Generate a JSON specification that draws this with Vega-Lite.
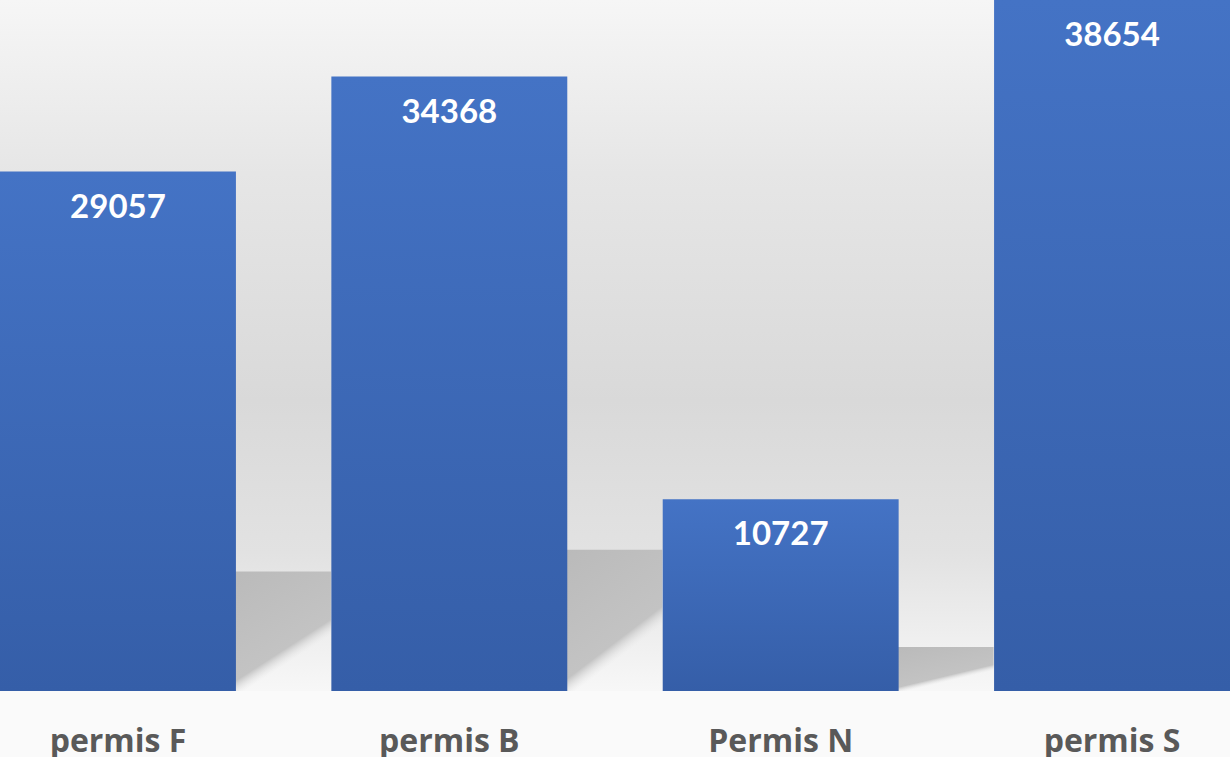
{
  "$schema": "https://vega.github.io/schema/vega-lite/v6.json",
  "width": 1230,
  "height": 691,
  "padding": 0,
  "autosize": {"type": "pad"},
  "background": "#fafafa",
  "config": {
    "view": {
      "stroke": null,
      "fill": {
        "gradient": "linear", "x1": 0, "y1": 0, "x2": 0, "y2": 1,
        "stops": [
          {"offset": 0, "color": "#f6f6f6"},
          {"offset": 0.25, "color": "#e6e6e6"},
          {"offset": 0.58, "color": "#d9d9d9"},
          {"offset": 0.8, "color": "#e2e2e2"},
          {"offset": 1, "color": "#f7f7f7"}
        ]
      }
    }
  },
  "data": {
    "values": [
      {"permis": "permis F", "nombre": 29057},
      {"permis": "permis B", "nombre": 34368},
      {"permis": "Permis N", "nombre": 10727},
      {"permis": "permis S", "nombre": 38654}
    ]
  },
  "encoding": {
    "x": {
      "field": "permis", "type": "nominal", "sort": null,
      "scale": {"paddingInner": 0.288, "paddingOuter": 0},
      "axis": {
        "title": null, "domain": false, "ticks": false, "labelAngle": 0,
        "labelFont": "Open Sans", "labelFontSize": 32, "labelFontWeight": "bold",
        "labelColor": "#595959", "labelPadding": 35
      }
    }
  },
  "layer": [
    {
      "mark": {
        "type": "bar", "xOffset": 95, "clip": true,
        "fill": {
          "gradient": "linear", "x1": 0, "y1": 0, "x2": 1.07, "y2": 0.84,
          "stops": [
            {"offset": 0, "color": "#b3b3b3"},
            {"offset": 0.76, "color": "#c3c3c3"},
            {"offset": 0.82, "color": "rgba(230,230,230,0)"},
            {"offset": 1, "color": "rgba(230,230,230,0)"}
          ]
        }
      },
      "encoding": {
        "y": {"field": "nombre", "type": "quantitative", "scale": {"domain": [0, 168000], "nice": false}, "axis": null}
      }
    },
    {
      "mark": {
        "type": "bar",
        "fill": {
          "gradient": "linear", "x1": 0, "y1": 0, "x2": 0, "y2": 1,
          "stops": [
            {"offset": 0, "color": "#4473c5"},
            {"offset": 1, "color": "#355ea8"}
          ]
        }
      },
      "encoding": {
        "y": {"field": "nombre", "type": "quantitative", "scale": {"domain": [0, 38654], "nice": false}, "axis": null}
      }
    },
    {
      "mark": {
        "type": "text", "align": "center", "baseline": "alphabetic", "dy": 46,
        "font": "Lato", "fontSize": 33, "fontWeight": "bold", "color": "#ffffff"
      },
      "encoding": {
        "y": {"field": "nombre", "type": "quantitative", "scale": {"domain": [0, 38654], "nice": false}, "axis": null},
        "text": {"field": "nombre", "type": "quantitative", "format": "d"}
      }
    }
  ],
  "resolve": {"scale": {"y": "independent"}}
}
